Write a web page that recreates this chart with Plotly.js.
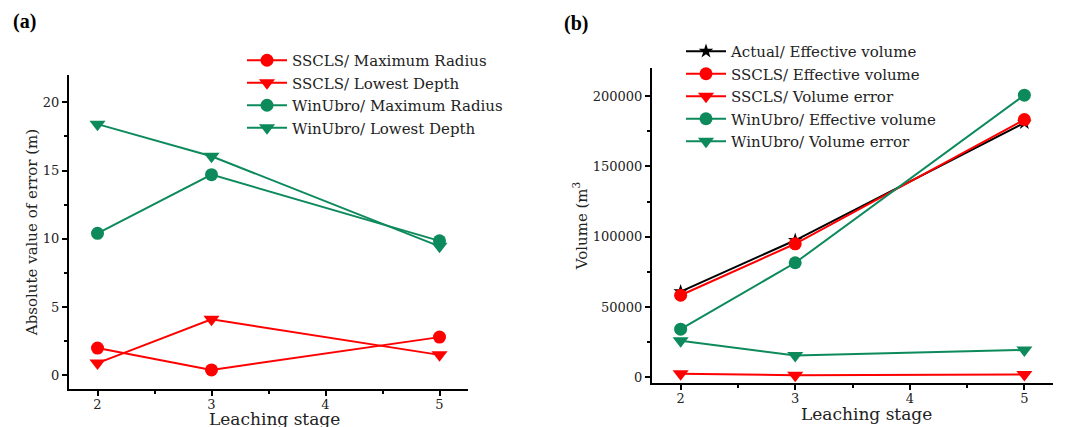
<!DOCTYPE html>
<html>
<head>
<meta charset="utf-8">
<script src="https://cdn.plot.ly/plotly-3.0.1.min.js"></script>
<style>
html,body{margin:0;padding:0;background:#fff;overflow:hidden;}
#chart{width:1077px;height:427px;}
</style>
</head>
<body>
<div id="chart"></div>
<script>
// Leaching stages
const stages = [2, 3, 5];

// Panel (a): absolute value of error (m)
const ssclsMaxRadius = [2.0, 0.4, 2.8];
const ssclsLowestDepth = [0.9, 4.1, 1.5];
const winUbroMaxRadius = [10.4, 14.7, 9.85];
const winUbroLowestDepth = [18.4, 16.05, 9.45];

// Panel (b): volume (m^3)
const actualEffVolume = [61000, 97500, 181000];
const ssclsEffVolume = [58400, 95000, 183300];
const ssclsVolumeError = [2600, 1600, 2000];
const winUbroEffVolume = [34300, 81500, 200700];
const winUbroVolumeError = [26000, 15500, 19500];

// Tick labels
const xTicks = [2, 3, 4, 5];
const yTicksA = [0, 5, 10, 15, 20];
const yTicksB = [0, 50000, 100000, 150000, 200000];

const RED = '#ff0000';
const GREEN = '#0d8a5c';
const BLACK = '#000000';
const FONT = 'DejaVu Serif, Liberation Serif, serif';
const BOLDFONT = 'Liberation Serif, Times New Roman, serif';

function tr(y, name, color, symbol, size, xa, ya, legend) {
  return {
    x: stages, y: y, name: name, type: 'scatter', mode: 'lines+markers',
    line: {color: color, width: 2},
    marker: {color: color, symbol: symbol, size: size},
    xaxis: xa, yaxis: ya, legend: legend
  };
}

const data = [
  tr(ssclsMaxRadius, 'SSCLS/ Maximum Radius', RED, 'circle', 13, 'x', 'y', 'legend'),
  tr(ssclsLowestDepth, 'SSCLS/ Lowest Depth', RED, 'triangle-down', 14, 'x', 'y', 'legend'),
  tr(winUbroMaxRadius, 'WinUbro/ Maximum Radius', GREEN, 'circle', 13, 'x', 'y', 'legend'),
  tr(winUbroLowestDepth, 'WinUbro/ Lowest Depth', GREEN, 'triangle-down', 14, 'x', 'y', 'legend'),
  tr(actualEffVolume, 'Actual/ Effective volume', BLACK, 'star', 11, 'x2', 'y2', 'legend2'),
  tr(ssclsEffVolume, 'SSCLS/ Effective volume', RED, 'circle', 13, 'x2', 'y2', 'legend2'),
  tr(ssclsVolumeError, 'SSCLS/ Volume error', RED, 'triangle-down', 14, 'x2', 'y2', 'legend2'),
  tr(winUbroEffVolume, 'WinUbro/ Effective volume', GREEN, 'circle', 13, 'x2', 'y2', 'legend2'),
  tr(winUbroVolumeError, 'WinUbro/ Volume error', GREEN, 'triangle-down', 14, 'x2', 'y2', 'legend2')
];

const W = 1077, H = 427;
function xaxis(domain, anchor) {
  return {
    domain: domain, anchor: anchor, range: [1.75, 5.25],
    tickvals: xTicks, ticktext: xTicks.map(String),
    showline: true, linecolor: '#000', linewidth: 2, mirror: false,
    ticks: 'outside', ticklen: 5, tickwidth: 2, tickcolor: '#000',
    ticklabelstandoff: -3,
    minor: {ticks: 'outside', ticklen: 3, tickwidth: 2, tickcolor: '#000', dtick: 0.5, tick0: 2, showgrid: false},
    showgrid: false, zeroline: false,
    tickfont: {family: FONT, size: 13, color: '#222'},
    automargin: false
  };
}
function yaxis(domain, anchor, range, vals, dtick, title) {
  return {
    domain: domain, anchor: anchor, range: range,
    tickvals: vals, ticktext: vals.map(String),
    showline: true, linecolor: '#000', linewidth: 2, mirror: false,
    ticks: 'outside', ticklen: 5, tickwidth: 2, tickcolor: '#000',
    minor: {ticks: 'outside', ticklen: 3, tickwidth: 2, tickcolor: '#000', dtick: dtick / 2, tick0: 0, showgrid: false},
    showgrid: false, zeroline: false,
    tickfont: {family: FONT, size: 13, color: '#222'},
    title: {text: title, font: {family: FONT, size: 15, color: '#222'}, standoff: 2},
    automargin: false
  };
}

const layout = {
  width: W, height: H,
  margin: {l: 0, r: 0, t: 0, b: 0},
  paper_bgcolor: '#fff', plot_bgcolor: '#fff',
  font: {family: FONT, color: '#222'},
  showlegend: true,
  xaxis: xaxis([69 / W, 468 / W], 'y'),
  yaxis: yaxis([(H - 389) / H, (H - 75) / H], 'x', [-1, 22], yTicksA, 5, 'Absolute value of error (m)'),
  xaxis2: xaxis([652 / W, 1053 / W], 'y2'),
  yaxis2: yaxis([(H - 383) / H, (H - 68) / H], 'x2', [-4000, 220000], yTicksB, 50000, 'Volume (m<sup>3</sup>'),
  legend: {
    x: 242 / W, y: (H - 44) / H, xanchor: 'left', yanchor: 'top',
    bgcolor: 'rgba(0,0,0,0)', borderwidth: 0,
    font: {family: FONT, size: 15, color: '#222'},
    itemwidth: 40, tracegroupgap: 0
  },
  legend2: {
    x: 681 / W, y: (H - 35) / H, xanchor: 'left', yanchor: 'top',
    bgcolor: 'rgba(0,0,0,0)', borderwidth: 0,
    font: {family: FONT, size: 15, color: '#222'},
    itemwidth: 40, tracegroupgap: 0
  },
  annotations: [
    {text: '<b>(a)</b>', x: 11 / W, y: (H - 22) / H, xref: 'paper', yref: 'paper', xanchor: 'left', yanchor: 'middle', showarrow: false, font: {family: BOLDFONT, size: 20, color: '#000'}},
    {text: '<b>(b)</b>', x: 562 / W, y: (H - 24) / H, xref: 'paper', yref: 'paper', xanchor: 'left', yanchor: 'middle', showarrow: false, font: {family: BOLDFONT, size: 20, color: '#000'}},
    {text: 'Leaching stage', x: 274 / W, y: (H - 419) / H, xref: 'paper', yref: 'paper', xanchor: 'center', yanchor: 'middle', showarrow: false, font: {family: FONT, size: 17, color: '#222'}},
    {text: 'Leaching stage', x: 866 / W, y: (H - 414) / H, xref: 'paper', yref: 'paper', xanchor: 'center', yanchor: 'middle', showarrow: false, font: {family: FONT, size: 17, color: '#222'}}
  ]
};

Plotly.newPlot('chart', data, layout, {displayModeBar: false, staticPlot: true});
</script>
</body>
</html>
